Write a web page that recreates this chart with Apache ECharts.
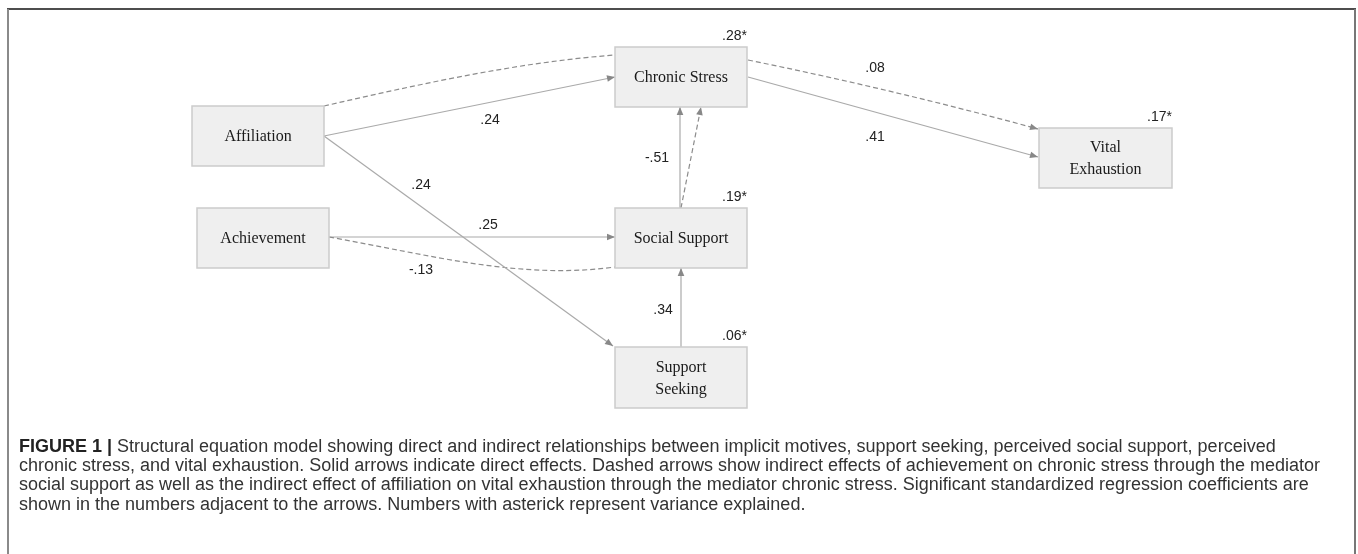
<!DOCTYPE html>
<html>
<head>
<meta charset="utf-8">
<script src="https://cdn.jsdelivr.net/npm/echarts@6/dist/echarts.min.js"></script>
<style>
  html, body { margin: 0; padding: 0; background: #fff; }
  #chart { width: 1358px; height: 554px; }
</style>
</head>
<body>
<div id="chart"></div>
<script>
// variables of the model
const nodeNames = ['Affiliation', 'Achievement', 'Chronic Stress', 'Social Support', 'Support\nSeeking', 'Vital\nExhaustion'];
// variance explained (asterisk values), null for the predictors
const varExplained = [null, null, 0.28, 0.19, 0.06, 0.17];

// box layout, in figure units (x to the right, y downwards)
const boxLeft = [192, 197, 615, 615, 615, 1039];
const boxTop = [106, 208, 47, 208, 347, 128];
const boxRight = [324, 329, 747, 747, 747, 1172];
const boxBottom = [166, 268, 107, 268, 408, 188];

// paths between the boxes
const pathStart = [[324, 136], [324, 106], [748, 60], [748, 77], [680, 208], [681, 208], [329, 237], [329, 237], [324, 136], [681, 347]];
const pathEnd = [[615, 77], [615, 55], [1038, 129], [1038, 157], [680, 107], [701, 107], [615, 237], [615, 267], [613, 346], [681, 268]];
// control points of the curved (indirect) paths
const pathCtrl = [null, [420, 84, 520, 62], [846, 80, 943, 103], null, null, null, null, [430, 255, 520, 280], null, null];
const pathDashed = [false, true, true, false, false, true, false, true, false, false];
const pathArrow = [true, false, true, true, true, true, true, false, true, true];
// standardized coefficients and where they are written
const pathCoef = [0.24, null, 0.08, 0.41, -0.51, null, 0.25, -0.13, 0.24, 0.34];
const coefAt = [[490, 120], null, [875, 68], [875, 137], [657, 158], null, [488, 225], [421, 270], [421, 185], [663, 310]];

const captionLines = [
  'Structural equation model showing direct and indirect relationships between implicit motives, support seeking, perceived social support, perceived',
  'chronic stress, and vital exhaustion. Solid arrows indicate direct effects. Dashed arrows show indirect effects of achievement on chronic stress through the mediator',
  'social support as well as the indirect effect of affiliation on vital exhaustion through the mediator chronic stress. Significant standardized regression coefficients are',
  'shown in the numbers adjacent to the arrows. Numbers with asterick represent variance explained.'
];

function fmt(v) {
  return (v < 0 ? '-' : '') + Math.abs(v).toFixed(2).replace(/^0/, '');
}

const numFont = '14px "Liberation Sans", Arial, sans-serif';

function renderBox(params, api) {
  const i = params.dataIndex;
  const p0 = api.coord([boxLeft[i], boxTop[i]]);
  const p1 = api.coord([boxRight[i], boxBottom[i]]);
  const children = [{
    type: 'rect',
    shape: { x: p0[0], y: p0[1], width: p1[0] - p0[0], height: p1[1] - p0[1] },
    style: { fill: '#efefef', stroke: '#cccccc', lineWidth: 1.5 }
  }, {
    type: 'text',
    x: (p0[0] + p1[0]) / 2,
    y: (p0[1] + p1[1]) / 2 + 1,
    style: {
      text: nodeNames[i],
      font: '16px "Liberation Serif", "Times New Roman", serif',
      fill: '#1a1a1a',
      align: 'center',
      verticalAlign: 'middle',
      lineHeight: 22
    }
  }];
  if (varExplained[i] != null) {
    children.push({
      type: 'text',
      x: p1[0],
      y: p0[1] - 11,
      style: { text: fmt(varExplained[i]) + '*', font: numFont, fill: '#222', align: 'right', verticalAlign: 'middle' }
    });
  }
  return { type: 'group', children: children };
}

function renderPath(params, api) {
  const i = params.dataIndex;
  const a = api.coord(pathStart[i]);
  const b = api.coord(pathEnd[i]);
  const style = {
    stroke: pathDashed[i] ? '#8c8c8c' : '#aaaaaa',
    lineWidth: 1.2,
    fill: null,
    lineDash: pathDashed[i] ? [5, 3] : null
  };
  const children = [];
  let dir;
  if (pathCtrl[i]) {
    const c = pathCtrl[i];
    const c1 = api.coord([c[0], c[1]]);
    const c2 = api.coord([c[2], c[3]]);
    children.push({
      type: 'bezierCurve',
      shape: { x1: a[0], y1: a[1], cpx1: c1[0], cpy1: c1[1], cpx2: c2[0], cpy2: c2[1], x2: b[0], y2: b[1] },
      style: style
    });
    dir = [b[0] - c2[0], b[1] - c2[1]];
  } else {
    children.push({
      type: 'line',
      shape: { x1: a[0], y1: a[1], x2: b[0], y2: b[1] },
      style: style
    });
    dir = [b[0] - a[0], b[1] - a[1]];
  }
  if (pathArrow[i]) {
    const len = Math.sqrt(dir[0] * dir[0] + dir[1] * dir[1]);
    const ux = dir[0] / len, uy = dir[1] / len;
    const al = 8, aw = 3.3;
    const bx = b[0] - ux * al, by = b[1] - uy * al;
    children.push({
      type: 'polygon',
      shape: { points: [[b[0], b[1]], [bx - uy * aw, by + ux * aw], [bx + uy * aw, by - ux * aw]] },
      style: { fill: '#888888' }
    });
  }
  if (pathCoef[i] != null) {
    const t = api.coord(coefAt[i]);
    children.push({
      type: 'text',
      x: t[0],
      y: t[1],
      style: { text: fmt(pathCoef[i]), font: numFont, fill: '#222', align: 'center', verticalAlign: 'middle' }
    });
  }
  return { type: 'group', children: children };
}

const chart = echarts.init(document.getElementById('chart'));

const captionText = '{b|FIGURE 1 |}{n| ' + captionLines[0] + '}\n' +
  captionLines.slice(1).map(function (l) { return '{n|' + l + '}'; }).join('\n');

chart.setOption({
  backgroundColor: '#fff',
  animation: false,
  title: {
    left: 14,
    top: 432,
    text: captionText,
    textStyle: {
      fontWeight: 'normal',
      rich: {
        b: { fontFamily: '"Liberation Sans", Arial, sans-serif', fontWeight: 'bold', fontSize: 18, color: '#222', lineHeight: 19.3 },
        n: { fontFamily: '"Liberation Sans", Arial, sans-serif', fontWeight: 'normal', fontSize: 18, color: '#333', lineHeight: 19.3 }
      }
    }
  },
  grid: { left: 0, right: 0, top: 0, bottom: 0 },
  xAxis: { type: 'value', min: 0, max: 1358, show: false },
  yAxis: { type: 'value', min: 0, max: 554, inverse: true, show: false },
  graphic: [
    { type: 'line', shape: { x1: 7, y1: 9, x2: 1356, y2: 9 }, style: { stroke: '#4d4d4d', lineWidth: 2 } },
    { type: 'line', shape: { x1: 8, y1: 9, x2: 8, y2: 560 }, style: { stroke: '#8a8a8a', lineWidth: 2 } },
    { type: 'line', shape: { x1: 1355, y1: 9, x2: 1355, y2: 560 }, style: { stroke: '#777777', lineWidth: 2 } }
  ],
  series: [{
    type: 'custom',
    name: 'paths',
    coordinateSystem: 'cartesian2d',
    renderItem: renderPath,
    encode: { x: [0, 2], y: [1, 3] },
    data: pathStart.map(function (s, i) { return [s[0], s[1], pathEnd[i][0], pathEnd[i][1]]; }),
    silent: true,
    z: 1
  }, {
    type: 'custom',
    name: 'variables',
    coordinateSystem: 'cartesian2d',
    renderItem: renderBox,
    encode: { x: [0, 2], y: [1, 3] },
    data: nodeNames.map(function (n, i) { return [boxLeft[i], boxTop[i], boxRight[i], boxBottom[i]]; }),
    silent: true,
    z: 2
  }]
});
</script>
</body>
</html>
